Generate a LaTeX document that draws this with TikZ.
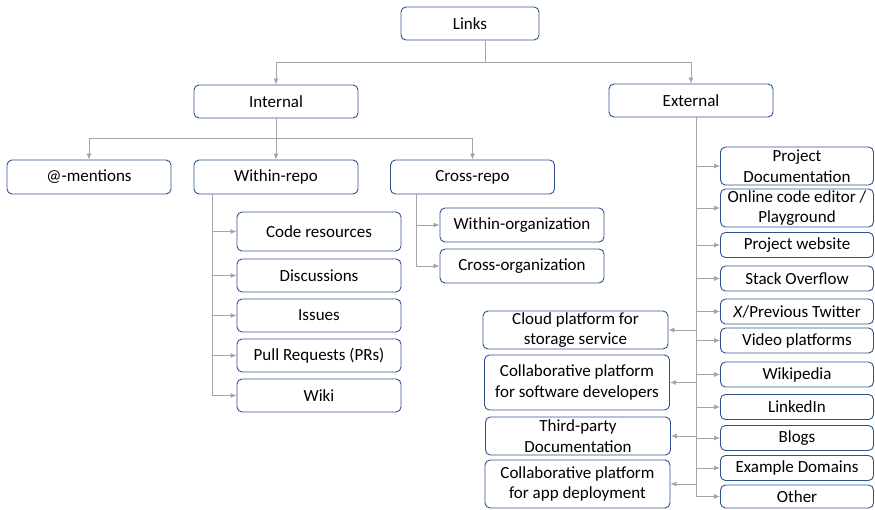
\documentclass[tikz,border=0pt]{standalone}
\usepackage{fontspec}
\setmainfont{Carlito}
\usetikzlibrary{arrows.meta,positioning}
\definecolor{boxblue}{RGB}{47,82,143}
\definecolor{linegray}{RGB}{165,165,165}
\begin{document}
\begin{tikzpicture}[x=1pt,y=-1pt,
every node/.style={draw=boxblue,line width=0.9pt,rounded corners=5pt,align=center,inner sep=0pt,
  font=\fontsize{17}{20.5}\selectfont},
wide/.style={minimum width=164pt,minimum height=34pt},
sub/.style={minimum width=164pt,minimum height=33pt},
ext/.style={minimum width=153pt,minimum height=25pt},
thirdp/.style={minimum width=185pt,minimum height=38pt},
conn/.style={draw=linegray,line width=0.8pt},
arr/.style={conn,-{Latex[length=6pt,width=5pt]}}]
\useasboundingbox (0,0) rectangle (875,510);
% levels 1 and 2
\node[minimum width=138pt,minimum height=33pt] (links) at (470,23.5) {Links};
\node[wide,minimum height=33pt] (internal) at (276,101.5) {Internal};
\node[wide,minimum height=33pt] (external) at (691,100.5) {External};
% internal
\node[wide] (mentions) at (89,177) {@-mentions};
\node[wide] (within) at (276,177) {Within-repo};
\node[wide] (cross) at (472.5,177) {Cross-repo};
\node[sub,minimum height=39pt] (code) at (319,231.5) {Code resources};
\node[sub] (disc) at (319,275.5) {Discussions};
\node[sub] (issues) at (319,315.5) {Issues};
\node[sub] (prs) at (319,355.5) {Pull Requests (PRs)};
\node[sub] (wiki) at (319,395.5) {Wiki};
\node[wide] (withinorg) at (522,225) {Within-organization};
\node[wide] (crossorg) at (522,266) {Cross-organization};
% external
\node[ext,minimum height=38pt] (projdoc) at (797,166) {Project\\Documentation};
\node[ext,minimum height=38pt] (editor) at (797,208) {Online code editor /\\Playground};
\node[ext] (website) at (797,245) {Project website};
\node[ext] (stack) at (797,278.5) {Stack Overflow};
\node[ext] (twitter) at (797,311.5) {\textit{X}/Previous Twitter};
\node[ext] (video) at (797,340.5) {Video platforms};
\node[ext] (wikipedia) at (797,374.5) {Wikipedia};
\node[ext] (linkedin) at (797,407) {LinkedIn};
\node[ext] (blogs) at (797,438) {Blogs};
\node[ext] (examples) at (797,468) {Example Domains};
\node[ext,minimum height=23pt] (other) at (797,496.5) {Other};
\node[thirdp] (cloud) at (575.5,330) {Cloud platform for\\storage service};
\node[thirdp,minimum height=55pt] (collabsw) at (577,382.5) {Collaborative  platform\\for software developers};
\node[thirdp] (thirdparty) at (578,436) {Third-party\\Documentation};
\node[thirdp,minimum height=48pt] (collabapp) at (577.5,484) {Collaborative  platform\\for app deployment};
% connectors
\draw[conn] ([xshift=15pt]links.south) -- ++(0,22) coordinate (topbus);
\draw[arr] (topbus) -| (internal.north);
\draw[arr] (topbus) -| (external.north);
\draw[conn] (internal.south) -- ++(0,20) coordinate (intbus);
\draw[arr] (intbus) -| (mentions.north);
\draw[arr] (intbus) -- (within.north);
\draw[arr] (intbus) -| (cross.north);
\foreach \n in {code,disc,issues,prs,wiki}
  \draw[arr] ([xshift=19pt]within.south west) |- (\n.west);
\foreach \n in {withinorg,crossorg}
  \draw[arr] ([xshift=26pt]cross.south west) |- (\n.west);
\foreach \n in {projdoc,editor,website,stack,twitter,video,wikipedia,linkedin,blogs,examples,other}
  \draw[arr] ([xshift=5pt]external.south) |- (\n.west);
\foreach \n in {cloud,collabsw,thirdparty,collabapp}
  \draw[arr] ([xshift=5pt]external.south) |- (\n.east);
\end{tikzpicture}
\end{document}
